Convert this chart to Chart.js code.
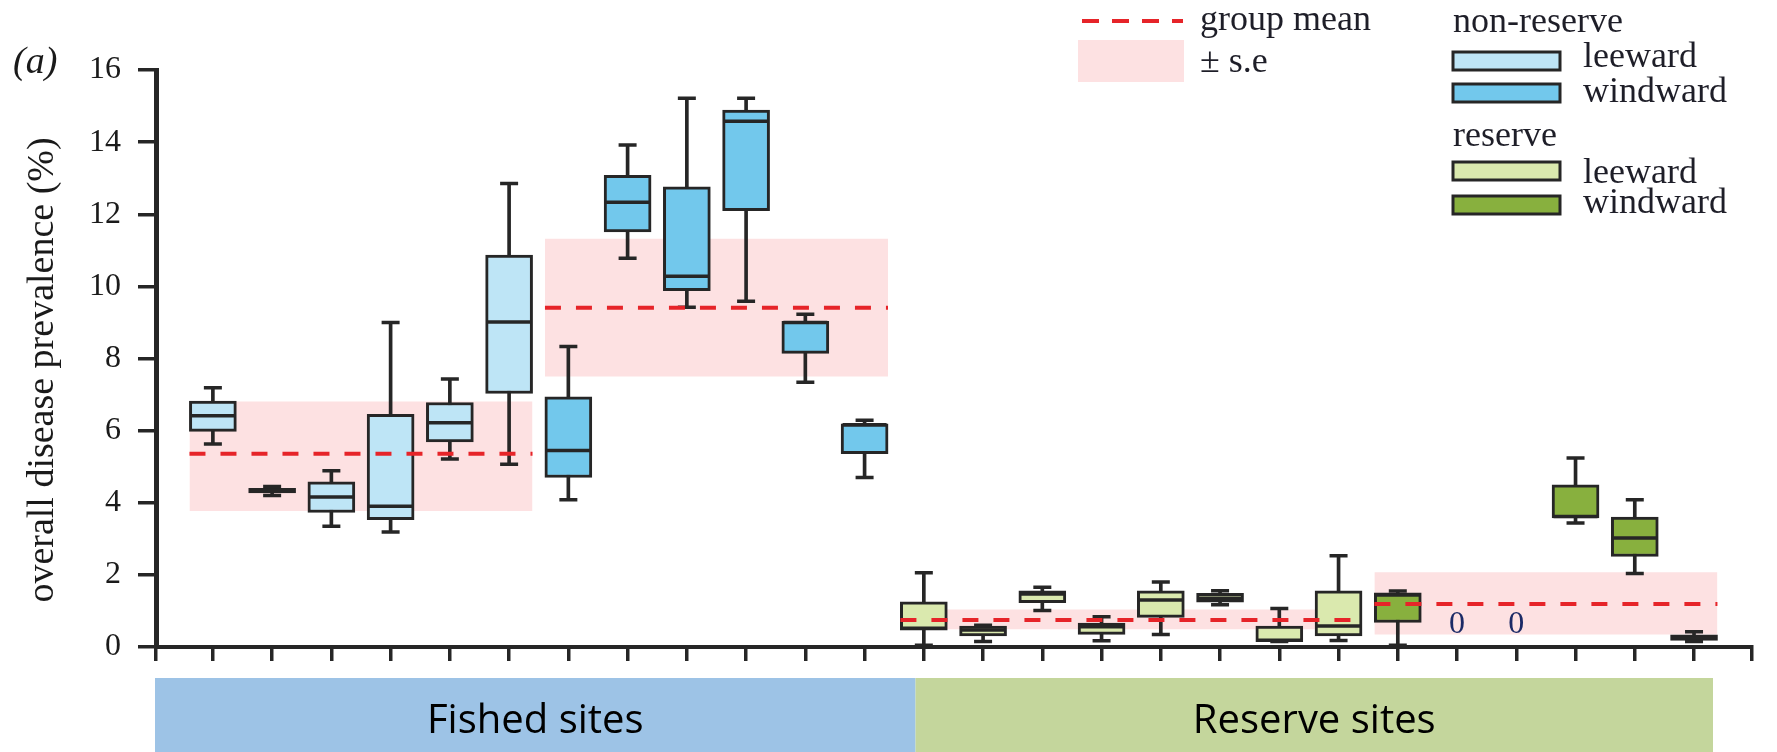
<!DOCTYPE html>
<html>
<head>
<meta charset="utf-8">
<script src="https://cdn.jsdelivr.net/npm/chart.js@4.4.1/dist/chart.umd.min.js"></script>
<style>
  html, body { margin: 0; padding: 0; background: #fff; }
  canvas { display: block; }
</style>
</head>
<body>
<canvas id="chart" width="1777" height="752"></canvas>
<script>
// 26 sites: 12 fished (6 leeward, 6 windward) then 14 reserve (8 leeward, 6 windward)
const sites = ['F1', 'F2', 'F3', 'F4', 'F5', 'F6', 'F7', 'F8', 'F9', 'F10', 'F11', 'F12',
  'R1', 'R2', 'R3', 'R4', 'R5', 'R6', 'R7', 'R8', 'R9', 'R10', 'R11', 'R12', 'R13', 'R14'];
const siteType = ['nl', 'nl', 'nl', 'nl', 'nl', 'nl', 'nw', 'nw', 'nw', 'nw', 'nw', 'nw',
  'rl', 'rl', 'rl', 'rl', 'rl', 'rl', 'rl', 'rl', 'rw', 'rw', 'rw', 'rw', 'rw', 'rw'];

// box plot values (% prevalence), null = no disease recorded ("0")
const whiskerLow  = [5.63, 4.20, 3.35, 3.19, 5.21, 5.07, 4.08, 10.78, 9.42, 9.59, 7.34, 4.70,
  0.05, 0.15, 1.01, 0.17, 0.35, 1.17, 0.15, 0.18, 0.05, null, null, 3.44, 2.04, 0.15];
const boxLow      = [5.98, 4.27, 3.73, 3.53, 5.69, 7.03, 4.70, 11.51, 9.88, 12.10, 8.14, 5.36,
  0.47, 0.31, 1.23, 0.35, 0.82, 1.24, 0.15, 0.31, 0.68, null, null, 3.58, 2.51, 0.18];
const median      = [6.41, 4.33, 4.16, 3.90, 6.22, 9.01, 5.45, 12.33, 10.28, 14.58, 9.00, 6.16,
  0.52, 0.47, 1.47, 0.56, 1.30, 1.35, 0.19, 0.58, 1.44, null, null, 3.62, 3.02, 0.25];
const boxHigh     = [6.82, 4.40, 4.58, 6.45, 6.78, 10.87, 6.94, 13.08, 12.76, 14.89, 9.03, 6.19,
  1.25, 0.58, 1.56, 0.66, 1.56, 1.49, 0.58, 1.56, 1.50, null, null, 4.50, 3.60, 0.34];
const whiskerHigh = [7.19, 4.45, 4.89, 9.00, 7.43, 12.85, 8.33, 13.92, 15.22, 15.22, 9.23, 6.29,
  2.06, 0.60, 1.66, 0.84, 1.80, 1.56, 1.07, 2.53, 1.55, null, null, 5.24, 4.08, 0.42];

// group means and +/- s.e. bands
const groupFirst  = [0, 6, 12, 20];
const groupLast   = [5, 11, 19, 25];
const groupMean   = [5.36, 9.41, 0.75, 1.19];
const groupSeLow  = [3.77, 7.50, 0.49, 0.35];
const groupSeHigh = [6.81, 11.32, 1.04, 2.07];

const yTicks = [0, 2, 4, 6, 8, 10, 12, 14, 16];

const bandLabels = ['Fished sites', 'Reserve sites'];
const bandFrom = [-0.96, 11.86];
const bandTo = [11.86, 25.32];

const xMin = -0.96;
const xMax = 25.97;

const boxColors = { nl: '#BEE5F6', nw: '#72C8EC', rl: '#DAE9AE', rw: '#88B03E' };
const ink = '#262626';
const red = '#E62429';
const pink = '#FDE1E2';
const halfBox = 0.395;

const present = sites.map((s, i) => i).filter(i => median[i] !== null);

let datasets = [];

groupMean.forEach((m, g) => {
  const x0 = groupFirst[g] - halfBox;
  const x1 = groupLast[g] + halfBox;
  datasets.push({
    type: 'line',
    data: [{ x: x0, y: groupSeHigh[g] }, { x: x1, y: groupSeHigh[g] }],
    fill: { value: groupSeLow[g] },
    backgroundColor: pink,
    borderColor: 'rgba(0,0,0,0)',
    borderWidth: 0,
    pointRadius: 0,
    order: 10
  });
  datasets.push({
    type: 'line',
    data: [{ x: x0, y: m }, { x: x1, y: m }],
    borderColor: red,
    borderWidth: 4,
    borderDash: [16, 15],
    pointRadius: 0,
    fill: false,
    order: 1
  });
});

// whisker stems
datasets.push({
  type: 'bar',
  data: present.map(i => ({ x: i, y: [whiskerLow[i], whiskerHigh[i]] })),
  backgroundColor: ink,
  borderWidth: 0,
  barThickness: 3,
  grouped: false,
  order: 8
});

// boxes
datasets.push({
  type: 'bar',
  data: present.map(i => ({ x: i, y: [boxLow[i], boxHigh[i]] })),
  backgroundColor: present.map(i => boxColors[siteType[i]]),
  borderColor: ink,
  borderWidth: 3,
  borderSkipped: false,
  barThickness: 47,
  grouped: false,
  order: 7
});

// medians and whisker caps
function lineMarks(values, radius) {
  return {
    type: 'scatter',
    data: present.map(i => ({ x: i, y: values[i] })),
    pointStyle: 'line',
    pointRadius: radius,
    pointHoverRadius: radius,
    pointBorderColor: ink,
    pointBorderWidth: 3.5,
    borderColor: ink,
    borderWidth: 3.5,
    order: 6
  };
}
datasets.push(lineMarks(median, 22));
datasets.push(lineMarks(whiskerLow, 9));
datasets.push(lineMarks(whiskerHigh, 9));

const serif = '"Liberation Serif", "DejaVu Serif", serif';

const extras = {
  id: 'extras',
  afterDatasetsDraw(chart) {
    const { ctx, scales: { x, y } } = chart;
    ctx.save();
    ctx.fillStyle = '#1b2a66';
    ctx.font = '32px ' + serif;
    ctx.textAlign = 'center';
    ctx.textBaseline = 'middle';
    sites.forEach((s, i) => {
      if (median[i] === null) {
        ctx.fillText('0', x.getPixelForValue(i), y.getPixelForValue(0) - 22);
      }
    });
    ctx.restore();
  },
  afterDraw(chart) {
    const { ctx, scales: { x, y } } = chart;
    ctx.save();

    // site type bands under the axis
    const bandTop = y.getPixelForValue(0) + 31;
    const bandColors = ['#9DC3E6', '#C4D69C'];
    bandLabels.forEach((label, b) => {
      const l = b === 0 ? x.left - 1 : x.getPixelForValue(bandFrom[b]);
      const r = x.getPixelForValue(bandTo[b]);
      ctx.fillStyle = bandColors[b];
      ctx.fillRect(l, bandTop, r - l, chart.height - bandTop);
      ctx.fillStyle = '#000';
      ctx.font = '40px "Open Sans", "Noto Sans", sans-serif';
      ctx.textAlign = 'center';
      ctx.textBaseline = 'alphabetic';
      ctx.fillText(label, (l + r) / 2, bandTop + 55);
    });

    // y axis title
    ctx.save();
    ctx.translate(53, 370);
    ctx.rotate(-Math.PI / 2);
    ctx.fillStyle = '#1a1a1a';
    ctx.font = '38px ' + serif;
    ctx.textAlign = 'center';
    ctx.textBaseline = 'alphabetic';
    ctx.fillText('overall disease prevalence (%)', 0, 0);
    ctx.restore();

    // panel letter
    ctx.fillStyle = '#1a1a1a';
    ctx.font = 'italic 38px ' + serif;
    ctx.textAlign = 'left';
    ctx.fillText('(a)', 13, 73);

    // legend
    ctx.strokeStyle = red;
    ctx.lineWidth = 4;
    ctx.setLineDash([17, 13]);
    ctx.beginPath();
    ctx.moveTo(1082, 21);
    ctx.lineTo(1183, 21);
    ctx.stroke();
    ctx.setLineDash([]);
    ctx.fillStyle = pink;
    ctx.fillRect(1078, 40, 106, 42);

    ctx.fillStyle = '#1e1e28';
    ctx.font = '36px ' + serif;
    ctx.fillText('group mean', 1200, 30);
    ctx.fillText('\u00B1 s.e', 1200, 72);
    ctx.fillText('non-reserve', 1453, 32);
    ctx.fillText('reserve', 1453, 146);

    const swatches = [
      ['nl', 52, 'leeward', 67],
      ['nw', 84, 'windward', 102],
      ['rl', 162, 'leeward', 183],
      ['rw', 196, 'windward', 213]
    ];
    swatches.forEach(([type, top, label, base]) => {
      ctx.fillStyle = boxColors[type];
      ctx.fillRect(1453, top, 107, 18);
      ctx.strokeStyle = ink;
      ctx.lineWidth = 3;
      ctx.strokeRect(1453, top, 107, 18);
      ctx.fillStyle = '#1e1e28';
      ctx.fillText(label, 1583, base);
    });

    ctx.restore();
  }
};

new Chart(document.getElementById('chart'), {
  type: 'bar',
  data: { datasets: datasets },
  options: {
    responsive: false,
    animation: false,
    events: [],
    layout: { padding: { left: 0, right: 10, top: 70, bottom: 0 } },
    plugins: {
      legend: { display: false },
      tooltip: { enabled: false }
    },
    scales: {
      x: {
        type: 'linear',
        min: xMin,
        max: xMax,
        offset: false,
        afterBuildTicks: scale => {
          scale.ticks = [xMin].concat(sites.map((s, i) => i), [xMax]).map(v => ({ value: v }));
        },
        afterFit: scale => { scale.height = 105; },
        ticks: { display: false },
        grid: {
          offset: false,
          drawOnChartArea: false,
          drawTicks: true,
          tickLength: 14,
          lineWidth: 3.5,
          color: ink
        },
        border: { display: true, width: 4, color: ink }
      },
      y: {
        type: 'linear',
        min: 0,
        max: 16,
        afterBuildTicks: scale => {
          scale.ticks = yTicks.map(v => ({ value: v }));
        },
        afterFit: scale => { scale.width = 156; },
        ticks: {
          color: '#1a1a1a',
          padding: 17,
          font: { family: serif, size: 32 }
        },
        grid: {
          drawOnChartArea: false,
          drawTicks: true,
          tickLength: 18,
          lineWidth: 3.5,
          color: ink
        },
        border: { display: true, width: 5, color: ink }
      }
    }
  },
  plugins: [extras]
});
</script>
</body>
</html>
